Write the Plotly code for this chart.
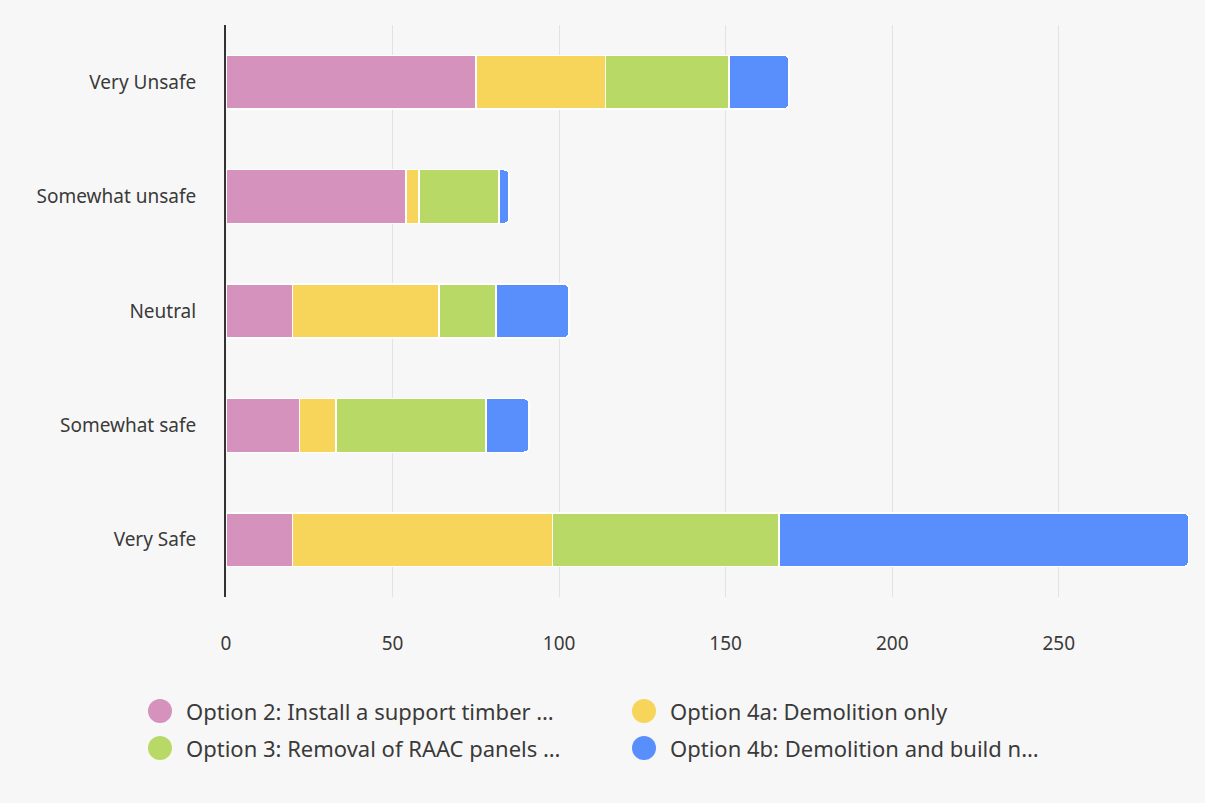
import plotly.graph_objects as go

categories = ["Very Unsafe", "Somewhat unsafe", "Neutral", "Somewhat safe", "Very Safe"]
series_names = [
    "Option 2: Install a support timber …",
    "Option 4a: Demolition only",
    "Option 3: Removal of RAAC panels …",
    "Option 4b: Demolition and build n…",
]
option2 = [75, 54, 20, 22, 20]
option4a = [39, 4, 44, 11, 78]
option3 = [37, 24, 17, 45, 68]
option4b = [18, 3, 22, 13, 123]
series_values = [option2, option4a, option3, option4b]
colors = ["#d492bc", "#f6d55a", "#b9d966", "#598efd"]
x_ticks = [0, 50, 100, 150, 200, 250]

FONT = "Noto Sans"
TEXT = "#3a3a3a"
BG = "#f8f7f7"

fig = go.Figure()
for name, vals, col in zip(series_names, series_values, colors):
    fig.add_trace(go.Bar(
        y=categories, x=vals, name=name, orientation="h",
        marker=dict(color=col, line=dict(color="white", width=1.5)),
        showlegend=False,
    ))

# custom legend: circles + labels, 2 columns
L, R, T, B = 226, 1192, 25, 597
W, H = R - L, B - T
col_x = [160, 644]
row_y = [711, 748]
for i, (name, col) in enumerate(zip(series_names, colors)):
    r, c = i // 2, i % 2
    px = (col_x[c] - L) / W
    py = (B - row_y[r]) / H
    fig.add_shape(type="circle", xref="paper", yref="paper",
                  xsizemode="pixel", ysizemode="pixel",
                  xanchor=px, yanchor=py, x0=-12, x1=12, y0=-12, y1=12,
                  fillcolor=col, line=dict(width=0))
    fig.add_annotation(xref="paper", yref="paper", x=(col_x[c] + 24 - L) / W, y=py,
                       text=name, showarrow=False, xanchor="left", yanchor="middle",
                       font=dict(family=FONT, size=22, color=TEXT))

fig.update_layout(
    width=1205, height=803,
    barmode="stack", bargap=0.53, barcornerradius=5,
    paper_bgcolor=BG, plot_bgcolor=BG,
    margin=dict(l=L, r=1205 - R, t=T, b=803 - B),
    font=dict(family=FONT, size=19, color=TEXT),
    xaxis=dict(range=[0, 290], tickvals=x_ticks, showgrid=True, gridcolor="#e2e2e2",
               gridwidth=1, zeroline=False, showline=False, ticks="",
               ticklabelstandoff=33, tickfont=dict(size=19, color=TEXT)),
    yaxis=dict(autorange="reversed", showline=True, linecolor="#333333", linewidth=2,
               showgrid=False, ticks="", ticklabelstandoff=24,
               tickfont=dict(size=19, color=TEXT)),
)

fig.write_html("out.html")
